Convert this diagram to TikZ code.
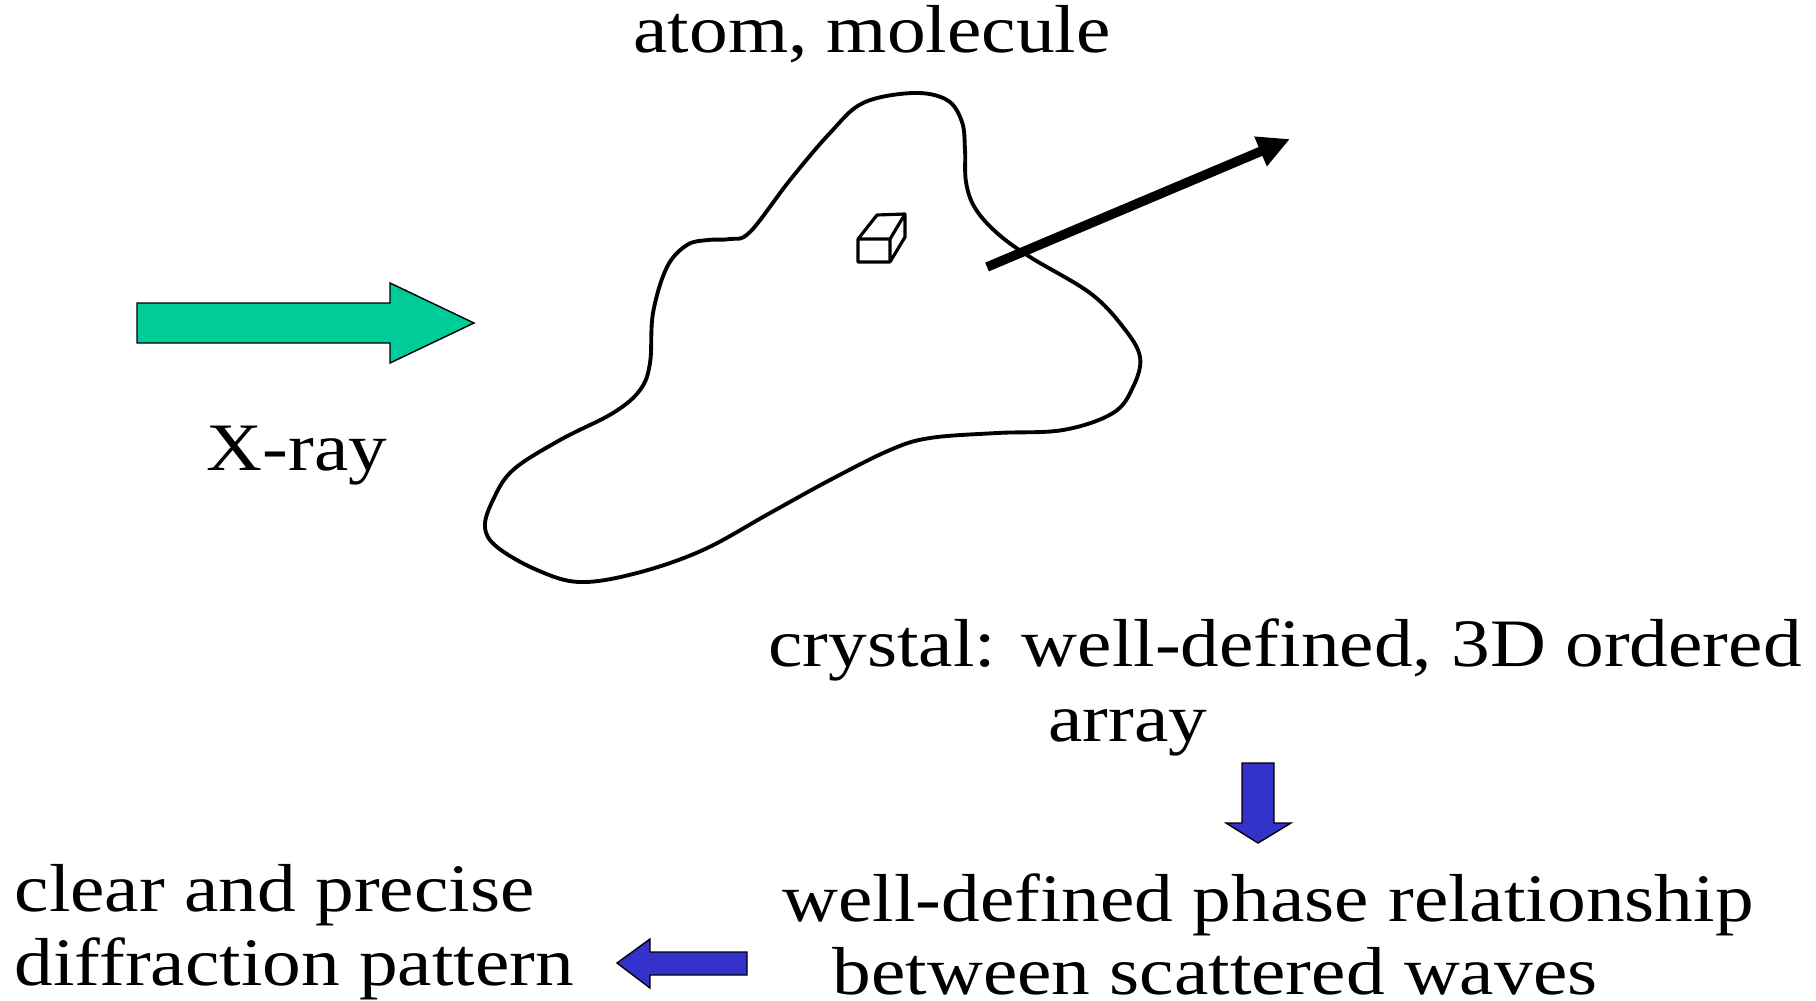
\documentclass[tikz,border=0pt]{standalone}
\usepackage{fontspec}
\setmainfont{Liberation Serif}[FakeStretch=1.14]
\usetikzlibrary{arrows.meta}
\definecolor{rayGreen}{HTML}{00CC99}
\definecolor{flowBlue}{HTML}{3333CC}

\begin{document}
\begin{tikzpicture}[x=0.01cm, y=-0.01cm, font=\fontsize{19.3}{23}\selectfont,
      lbl/.style={inner sep=0pt, anchor=base},
      lblleft/.style={inner sep=0pt, anchor=base west},
      blockarr/.style={draw=black, line width=0.4pt, line join=miter},
      scatter/.style={-{Triangle[length=0.32cm, width=0.30cm]}, line width=0.095cm}]
    \useasboundingbox (0,0) rectangle (1816,1000);
    % labels
    \node[lbl] (atom) at (872,52) {atom, molecule};
    \node[lbl] (xray) at (297,470) {X-ray};
    \node[lbl] (crystal) at (1285,666) {crystal: well-defined, 3D ordered};
    \node[lbl] (array) at (1128,741) {array};
    \node[lbl] (phase) at (1268,921) {well-defined phase relationship};
    \node[lbl] (between) at (1215,994) {between scattered waves};
    \node[lblleft] (clear) at (14,911) {clear and precise};
    \node[lblleft] (diffr) at (14,985) {diffraction pattern};
    % incoming beam
    \draw[blockarr, fill=rayGreen] (137,303) -- (390,303) -- (390,283) -- (474,323)
      -- (390,363) -- (390,343) -- (137,343) -- cycle;
    % the sample
    \draw[line width=1.1pt, line join=round] plot[smooth cycle, tension=0.6] coordinates {
      (830,133) (863,103) (913,93) (947,100) (962,122) (965,150) (966,182) (975,208)
      (997,233) (1030,257) (1090,293) (1123,327) (1140,357) (1133,387) (1113,413)
      (1063,430) (997,433) (930,438) (890,450) (830,480) (770,513) (703,550) (637,573)
      (580,582) (537,570) (497,547) (485,527) (493,500) (513,470) (560,440) (613,413)
      (640,390) (650,363) (653,313) (667,267) (687,245) (708,240) (730,239) (750,232)
      (790,180)};
    % unit cell
    \draw[line width=0.9pt, line join=round] (858,239) rectangle (890,262)
      (858,239) -- (877,215) -- (905,214) -- (890,239)
      (905,214) -- (905,237) -- (890,262);
    % scattered beam
    \coordinate (scatfrom) at (987,267);
    \coordinate (scatto) at (1290,139);
    \draw[scatter] (scatfrom) -- (scatto);
    % flow arrows
    \draw[blockarr, fill=flowBlue] (1242,763) -- (1274,763) -- (1274,823) -- (1291,823)
      -- (1258,843) -- (1226,823) -- (1242,823) -- cycle;
    \draw[blockarr, fill=flowBlue] (747,952) -- (650,952) -- (650,939) -- (617,963)
      -- (650,988) -- (650,975) -- (747,975) -- cycle;
\end{tikzpicture}
\end{document}
